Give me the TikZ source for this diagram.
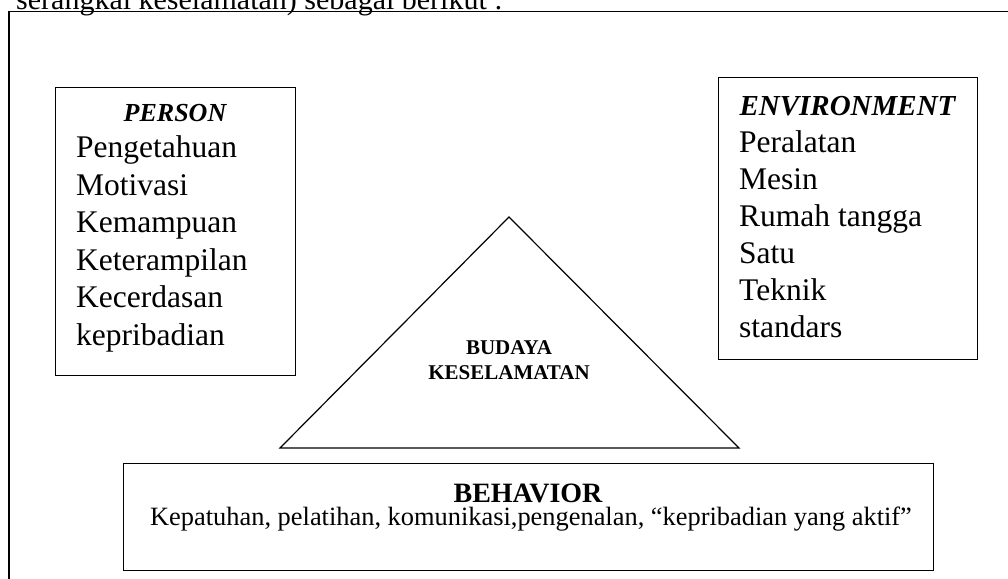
\documentclass[tikz,border=0pt]{standalone}
\usepackage{fontspec}
\setmainfont{Liberation Serif}
\usetikzlibrary{positioning}

\begin{document}
\begin{tikzpicture}[
        x=1pt, y=-1pt,
        panel/.style={draw, line width=1.2pt, inner sep=0pt, anchor=north west},
        heading/.style={font=\bfseries\itshape, anchor=base},
        itemlist/.style={align=left, inner sep=0pt, anchor=base west, font=\fontsize{31.5}{37.5}\selectfont},
        tri/.style={draw, line width=1.2pt, line join=miter}
    ]
        \useasboundingbox (0,0) rectangle (1008,578);
        \clip (0,0) rectangle (1008,578);

        % Page text and frame
        \node (intro) [anchor=base west, inner sep=0pt, font=\fontsize{30}{36}\selectfont] at (16,10) {serangkai keselamatan) sebagai berikut :};
        \draw[line width=1.5pt] (9,11.5) rectangle (1030,600);

        % Person
        \node (person) [panel, minimum width=240pt, minimum height=288pt] at (55,87) {};
        \node (persontitle) [heading, font=\fontsize{26}{30}\bfseries\itshape] at (175,121) {PERSON};
        \node (personlist) [itemlist] at (76,345) {Pengetahuan\\Motivasi\\Kemampuan\\Keterampilan\\Kecerdasan\\kepribadian};

        % Environment
        \node (environment) [panel, minimum width=259pt, minimum height=282pt] at (718,77) {};
        \node (envtitle) [heading, font=\fontsize{29}{33}\bfseries\itshape] at (847.5,115) {ENVIRONMENT};
        \node (envlist) [itemlist, font=\fontsize{31.5}{37}\selectfont] at (739,337) {Peralatan\\Mesin\\Rumah tangga\\Satu\\Teknik\\standars};

        % Triangle
        \coordinate (apex) at (509,217);
        \coordinate (baseleft) at (280,448);
        \coordinate (baseright) at (739,448);
        \draw[tri] (apex) -- (baseleft) -- (baseright) -- cycle;
        \node (culture) [anchor=base, inner sep=0pt, align=center, font=\fontsize{21}{25}\bfseries] at (509,379) {BUDAYA\\KESELAMATAN};

        % Behavior
        \node (behavior) [panel, minimum width=810pt, minimum height=107pt] at (123,463) {};
        \node (behaviortitle) [anchor=base, inner sep=0pt, font=\fontsize{28}{32}\bfseries] at (528,502) {BEHAVIOR};
        \node (behaviortext) [anchor=base, inner sep=0pt, font=\fontsize{26.4}{30}\selectfont] at (531,525) {Kepatuhan, pelatihan, komunikasi,pengenalan, “kepribadian yang aktif”};

    \end{tikzpicture}
\end{document}
